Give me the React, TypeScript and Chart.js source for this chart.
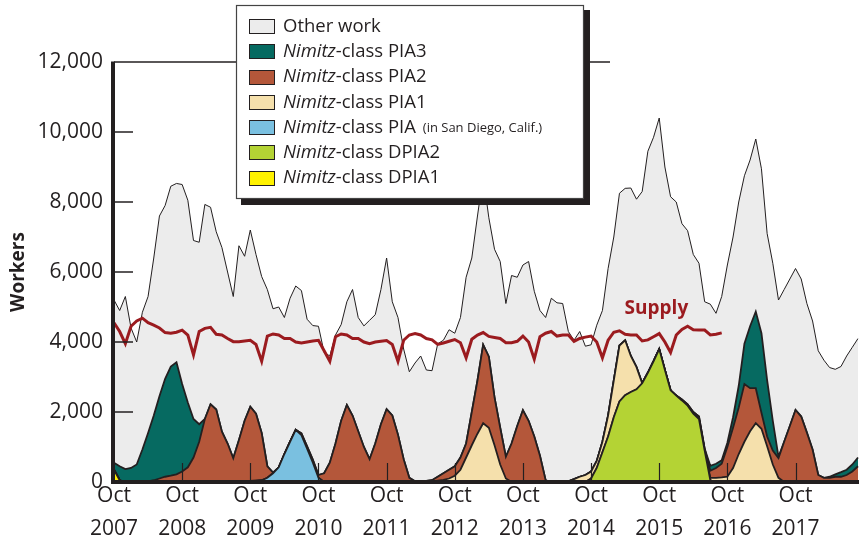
import { useEffect, useRef } from 'react';
import { Chart, registerables } from 'chart.js';

Chart.register(...registerables);

// ---------- categories (monthly, fiscal years 2008-2018) ----------
const MONTHS = ['Oct', 'Nov', 'Dec', 'Jan', 'Feb', 'Mar', 'Apr', 'May', 'Jun', 'Jul', 'Aug', 'Sep'];
const FISCAL_YEARS = [2008, 2009, 2010, 2011, 2012, 2013, 2014, 2015, 2016, 2017, 2018];
const CATEGORIES = FISCAL_YEARS.flatMap((fy) => MONTHS.map((m, k) => `${m} ${k < 3 ? fy - 1 : fy}`));

const Y_TICKS = [0, 2000, 4000, 6000, 8000, 10000, 12000];

// ---------- series (workers per month) ----------
const DPIA1 = [
  350, 50, 0, 0, 0, 0, 0, 0, 0, 0, 0, 0,
  0, 0, 0, 0, 0, 0, 0, 0, 0, 0, 0, 0,
  0, 0, 0, 0, 0, 0, 0, 0, 0, 0, 0, 0,
  0, 0, 0, 0, 0, 0, 0, 0, 0, 0, 0, 0,
  0, 0, 0, 0, 0, 0, 0, 0, 0, 0, 0, 0,
  0, 0, 0, 0, 0, 0, 0, 0, 0, 0, 0, 0,
  0, 0, 0, 0, 0, 0, 0, 0, 0, 0, 0, 0,
  0, 0, 0, 0, 0, 0, 0, 0, 0, 0, 0, 0,
  0, 0, 0, 0, 0, 0, 0, 0, 0, 0, 0, 0,
  0, 0, 0, 0, 0, 0, 0, 0, 0, 0, 0, 0,
  0, 0, 0, 0, 0, 0, 0, 0, 0, 0, 0, 0,
];

const DPIA2 = [
  0, 0, 0, 0, 0, 0, 0, 0, 0, 0, 0, 0,
  0, 0, 0, 0, 0, 0, 0, 0, 0, 0, 0, 0,
  0, 0, 0, 0, 0, 0, 0, 0, 0, 0, 0, 0,
  0, 0, 0, 0, 0, 0, 0, 0, 0, 0, 0, 0,
  0, 0, 0, 0, 0, 0, 0, 0, 0, 0, 0, 0,
  0, 0, 0, 0, 0, 0, 0, 0, 0, 0, 0, 0,
  0, 0, 0, 0, 0, 0, 0, 0, 0, 0, 0, 0,
  100, 400, 850, 1300, 1850, 2300, 2480, 2570, 2650, 2820, 3120, 3450,
  3800, 3200, 2620, 2470, 2330, 2180, 1950, 1800, 900, 50, 0, 0,
  0, 0, 0, 0, 0, 0, 0, 0, 0, 0, 0, 0,
  0, 0, 0, 0, 0, 0, 0, 0, 0, 0, 0, 0,
];

const PIA_SD = [
  0, 0, 0, 0, 0, 0, 0, 0, 0, 0, 0, 0,
  0, 0, 0, 0, 0, 0, 0, 0, 0, 0, 0, 0,
  30, 40, 50, 120, 250, 420, 800, 1150, 1490, 1340, 950, 560,
  120, 0, 0, 0, 0, 0, 0, 0, 0, 0, 0, 0,
  0, 0, 0, 0, 0, 0, 0, 0, 0, 0, 0, 0,
  0, 0, 0, 0, 0, 0, 0, 0, 0, 0, 0, 0,
  0, 0, 0, 0, 0, 0, 0, 0, 0, 0, 0, 0,
  0, 0, 0, 0, 0, 0, 0, 0, 0, 0, 0, 0,
  0, 0, 0, 0, 0, 0, 0, 0, 0, 0, 0, 0,
  0, 0, 0, 0, 0, 0, 0, 0, 0, 0, 0, 0,
  0, 0, 0, 0, 0, 0, 0, 0, 0, 0, 0, 0,
];

const PIA1 = [
  0, 0, 0, 0, 0, 0, 0, 0, 0, 0, 0, 0,
  0, 0, 0, 0, 0, 0, 0, 0, 0, 0, 0, 0,
  0, 0, 0, 0, 0, 0, 0, 0, 0, 0, 0, 0,
  0, 0, 0, 0, 0, 0, 0, 0, 0, 0, 0, 0,
  0, 0, 0, 0, 0, 0, 0, 0, 20, 40, 60, 100,
  180, 350, 700, 1050, 1380, 1680, 1550, 1050, 500, 100, 0, 0,
  0, 0, 0, 0, 0, 0, 10, 10, 20, 80, 150, 200,
  200, 200, 300, 600, 1050, 1600, 1570, 1030, 630, 0, 0, 0,
  0, 0, 0, 0, 0, 0, 0, 0, 0, 70, 120, 130,
  150, 400, 800, 1150, 1450, 1680, 1520, 1020, 500, 120, 0, 0,
  0, 0, 0, 0, 0, 0, 0, 0, 0, 0, 0, 0,
];

const PIA2 = [
  0, 0, 0, 0, 0, 0, 20, 50, 100, 150, 180, 220,
  300, 420, 700, 1150, 1800, 2220, 2070, 1440, 1100, 680, 1200, 1750,
  2120, 1910, 1350, 330, 20, 0, 0, 0, 0, 50, 70, 80,
  80, 250, 550, 1100, 1750, 2200, 1900, 1450, 1000, 650, 1100, 1650,
  2080, 1900, 1350, 650, 120, 20, 30, 30, 30, 110, 190, 250,
  270, 350, 400, 950, 1520, 2240, 2030, 1370, 1050, 620, 1100, 1600,
  2050, 1750, 1300, 750, 50, 0, 0, 0, 0, 0, 0, 0,
  0, 0, 0, 0, 0, 0, 0, 0, 0, 0, 0, 0,
  0, 0, 0, 0, 30, 40, 50, 70, 50, 200, 280, 390,
  850, 1150, 1330, 1650, 1230, 1000, 460, 280, 400, 560, 1150, 1600,
  2060, 1870, 1410, 930, 200, 120, 120, 150, 150, 200, 300, 450,
];

const PIA3 = [
  200, 400, 370, 400, 500, 930, 1380, 1850, 2350, 2800, 3120, 3200,
  2500, 1850, 1100, 500, 0, 0, 0, 0, 0, 0, 0, 0,
  0, 0, 0, 0, 0, 0, 0, 0, 0, 0, 0, 0,
  0, 0, 0, 0, 0, 0, 0, 0, 0, 0, 0, 0,
  0, 0, 0, 0, 0, 0, 0, 0, 0, 0, 0, 0,
  0, 0, 0, 0, 0, 0, 0, 0, 0, 0, 0, 0,
  0, 0, 0, 0, 0, 0, 0, 0, 0, 0, 0, 0,
  0, 0, 0, 0, 0, 0, 0, 0, 0, 0, 0, 0,
  0, 0, 0, 0, 0, 0, 0, 0, 0, 140, 120, 100,
  120, 300, 620, 1150, 1770, 2190, 2270, 1610, 850, 40, 0, 0,
  0, 0, 0, 0, 0, 0, 30, 70, 130, 150, 200, 250,
];

const OTHER = [
  4650, 4450, 4930, 4000, 3500, 3920, 3900, 4500, 5150, 4950, 5150, 5110,
  5700, 5780, 5100, 5200, 6130, 5630, 5080, 5260, 4900, 4620, 5550, 4700,
  5050, 4550, 4470, 5050, 4680, 4580, 3900, 4100, 4110, 4080, 3630, 3830,
  4250, 3450, 3050, 3100, 2750, 2950, 3600, 3250, 3460, 3970, 3680, 3850,
  4320, 3250, 3350, 3150, 3030, 3380, 3570, 3170, 3130, 3800, 3800, 4000,
  3800, 4000, 4750, 4400, 4700, 4830, 3970, 4230, 4750, 4380, 4800, 4250,
  4150, 4550, 4150, 4150, 4650, 5250, 5110, 5090, 4280, 3970, 4150, 3680,
  3620, 3880, 3750, 4200, 4100, 4350, 4340, 4800, 4800, 5480, 6330, 6400,
  6600, 5800, 5530, 5530, 5020, 4960, 4500, 4380, 4200, 4620, 4300, 4680,
  5080, 5150, 5250, 4800, 4750, 4930, 4700, 4190, 4500, 4480, 4350, 4200,
  4040, 3930, 3690, 3670, 3550, 3360, 3120, 3000, 3020, 3250, 3350, 3400,
];

const SUPPLY = [
  4550, 4300, 3950, 4450, 4600, 4680, 4550, 4480, 4400, 4270, 4250, 4280,
  4340, 4200, 3630, 4300, 4390, 4420, 4220, 4200, 4100, 4010, 4010, 4030,
  4050, 3930, 3450, 4170, 4230, 4200, 4100, 4100, 4000, 3970, 4000, 4030,
  4050, 3750, 3450, 4150, 4230, 4200, 4100, 4100, 4000, 3950, 4000, 4020,
  4040, 3930, 3450, 4050, 4200, 4240, 4200, 4100, 4060, 3930, 3970, 4020,
  4070, 3980, 3550, 4080, 4200, 4270, 4160, 4130, 4100, 3980, 3980, 4020,
  4170, 4000, 3510, 4150, 4250, 4300, 4170, 4200, 4200, 4020, 4100, 4140,
  4170, 4000, 3550, 4050, 4280, 4320, 4220, 4200, 4200, 4030, 4060, 4150,
  4240, 4000, 3700, 4200, 4360, 4450, 4350, 4340, 4340, 4200, 4220, 4260,
  null, null, null, null, null, null, null, null, null, null, null, null,
  null, null, null, null, null, null, null, null, null, null, null, null,
];

// ---------- styles ----------
const INK = '#231f20';
const RED = '#9b1b1f';
const FONT = '"Open Sans", "Noto Sans", sans-serif';

const LEGEND = [
  { italic: '', text: 'Other work', note: '', color: '#ececec' },
  { italic: 'Nimitz', text: '-class PIA3', note: '', color: '#066a61' },
  { italic: 'Nimitz', text: '-class PIA2', note: '', color: '#b4573a' },
  { italic: 'Nimitz', text: '-class PIA1', note: '', color: '#f5e0ac' },
  { italic: 'Nimitz', text: '-class PIA ', note: '(in San Diego, Calif.)', color: '#7ac0e0' },
  { italic: 'Nimitz', text: '-class DPIA2', note: '', color: '#b4d334' },
  { italic: 'Nimitz', text: '-class DPIA1', note: '', color: '#fff200' },
];

const decorPlugin = {
  id: 'decor',
  afterDatasetsDraw(chart: any) {
    const { ctx, chartArea: a, scales } = chart;
    const x = scales.x;
    const y = scales.y;
    const line = (x1: number, y1: number, x2: number, y2: number) => {
      ctx.beginPath();
      ctx.moveTo(x1, y1);
      ctx.lineTo(x2, y2);
      ctx.stroke();
    };
    ctx.save();
    ctx.strokeStyle = INK;
    // x tick marks at each October
    ctx.lineWidth = 1.2;
    CATEGORIES.forEach((c, i) => {
      if (i > 0 && c.startsWith('Oct')) {
        const px = Math.round(x.getPixelForValue(i)) + 0.5;
        line(px, a.bottom, px, a.bottom - 19);
      }
    });
    // y tick marks
    ctx.lineWidth = 1.5;
    Y_TICKS.forEach((v) => {
      if (v > 0 && v < 12000) {
        const py = y.getPixelForValue(v);
        line(a.left, py, a.left + 19, py);
      }
    });
    // top frame line
    ctx.lineWidth = 1.3;
    line(a.left, a.top, 610, a.top);
    // axes
    ctx.lineWidth = 4;
    line(a.left - 1, a.top - 0.5, a.left - 1, a.bottom + 2);
    line(a.left - 3, a.bottom, a.right + 1, a.bottom);
    // Supply label
    ctx.fillStyle = RED;
    ctx.font = `bold 19px ${FONT}`;
    ctx.textAlign = 'center';
    ctx.textBaseline = 'alphabetic';
    ctx.fillText('Supply', x.getPixelForValue(95.5), y.getPixelForValue(4800));
    ctx.restore();
  },
  afterDraw(chart: any) {
    const { ctx } = chart;
    ctx.save();
    // legend box with shadow
    ctx.fillStyle = INK;
    ctx.fillRect(241, 10, 349, 195);
    ctx.fillStyle = '#ffffff';
    ctx.fillRect(236, 5, 348, 194);
    ctx.strokeStyle = '#444';
    ctx.lineWidth = 1.2;
    ctx.strokeRect(236.5, 5.5, 347, 193);
    ctx.textBaseline = 'middle';
    ctx.textAlign = 'left';
    LEGEND.forEach((it, r) => {
      const yc = 26.5 + r * 25.25;
      ctx.fillStyle = it.color;
      ctx.fillRect(249, Math.round(yc - 7.5), 26, 15);
      ctx.strokeStyle = INK;
      ctx.lineWidth = 1;
      ctx.strokeRect(249.5, Math.round(yc - 7.5) + 0.5, 25, 14);
      ctx.fillStyle = INK;
      let tx = 283;
      if (it.italic) {
        ctx.font = `italic 18.5px ${FONT}`;
        ctx.fillText(it.italic, tx, yc);
        tx += ctx.measureText(it.italic).width;
      }
      ctx.font = `18.5px ${FONT}`;
      ctx.fillText(it.text, tx, yc);
      tx += ctx.measureText(it.text).width;
      if (it.note) {
        ctx.font = `13px ${FONT}`;
        ctx.fillText(it.note, tx + 2, yc + 1);
      }
    });
    ctx.restore();
  },
};

export default function App() {
  const ref = useRef<HTMLCanvasElement | null>(null);

  useEffect(() => {
    if (!ref.current) return;
    Chart.defaults.font.family = FONT;
    const area = (label: string, data: number[], color: string, fill: any, bw = 1.8) => ({
      label,
      data,
      backgroundColor: color,
      borderColor: INK,
      borderWidth: bw,
      fill,
      pointRadius: 0,
      pointHoverRadius: 0,
      tension: 0,
      stack: 'work',
      order: 1,
    });
    const chart = new Chart(ref.current, {
      type: 'line',
      data: {
        labels: CATEGORIES,
        datasets: [
          {
            label: 'Supply',
            data: SUPPLY,
            borderColor: RED,
            borderWidth: 3,
            fill: false,
            pointRadius: 0,
            pointHoverRadius: 0,
            tension: 0,
            stack: 'supply',
            order: 0,
          } as any,
          area('Nimitz-class DPIA1', DPIA1, LEGEND[6].color, 'origin'),
          area('Nimitz-class DPIA2', DPIA2, LEGEND[5].color, '-1'),
          area('Nimitz-class PIA (in San Diego, Calif.)', PIA_SD, LEGEND[4].color, '-1'),
          area('Nimitz-class PIA1', PIA1, LEGEND[3].color, '-1'),
          area('Nimitz-class PIA2', PIA2, LEGEND[2].color, '-1'),
          area('Nimitz-class PIA3', PIA3, LEGEND[1].color, '-1'),
          area('Other work', OTHER, LEGEND[0].color, '-1', 1),
        ],
      },
      options: {
        responsive: false,
        animation: false,
        devicePixelRatio: 1,
        layout: { padding: { top: 62, right: 1, left: 0, bottom: 0 } },
        plugins: { legend: { display: false }, tooltip: { enabled: false } },
        scales: {
          x: {
            type: 'category',
            grid: { display: false, drawTicks: false },
            border: { display: false },
            afterFit: (s: any) => {
              s.height = 64;
            },
            ticks: {
              autoSkip: false,
              maxRotation: 0,
              minRotation: 0,
              padding: -2,
              color: INK,
              font: { size: 21, lineHeight: 1.57 },
              callback: (_v: any, i: number) =>
                CATEGORIES[i].startsWith('Oct') ? CATEGORIES[i].split(' ') : '',
            },
          },
          y: {
            stacked: true,
            min: 0,
            max: 12000,
            grid: { display: false, drawTicks: false },
            border: { display: false },
            afterFit: (s: any) => {
              s.width = 114;
            },
            afterBuildTicks: (s: any) => {
              s.ticks = Y_TICKS.map((v) => ({ value: v }));
            },
            ticks: {
              padding: 11,
              color: INK,
              font: { size: 21 },
              callback: (v: any) => Number(v).toLocaleString('en-US'),
            },
            title: {
              display: true,
              text: 'Workers',
              color: INK,
              font: { size: 19, weight: 'bold' },
              padding: { top: 7, bottom: 0 },
            },
          },
        },
      },
      plugins: [decorPlugin],
    } as any);
    return () => chart.destroy();
  }, []);

  return (
    <div style={{ position: 'absolute', left: 0, top: 0, width: 859, height: 546, background: '#fff' }}>
      <canvas ref={ref} width={859} height={546} style={{ display: 'block' }} />
    </div>
  );
}
